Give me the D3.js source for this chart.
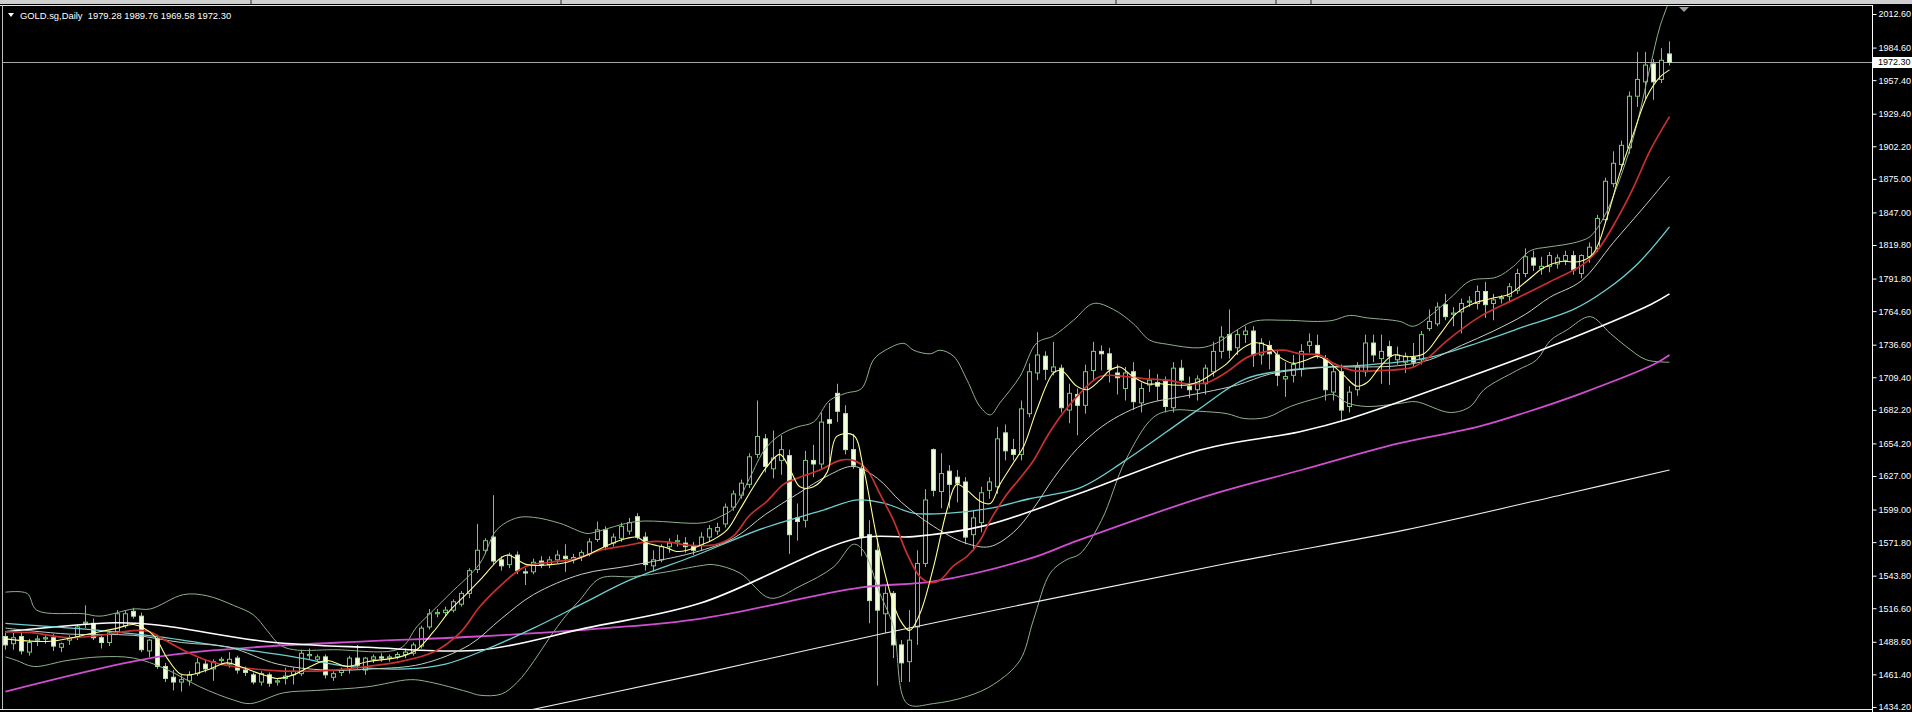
<!DOCTYPE html>
<html><head><meta charset="utf-8">
<script src="https://cdn.jsdelivr.net/npm/d3@7"></script>
<style>html,body{margin:0;padding:0;background:#000;overflow:hidden}svg{display:block}</style>
</head><body>
<svg id="c" width="1912" height="712"></svg>
<script>
// ---- data ----
const symbolTitle = "GOLD.sg,Daily  1979.28 1989.76 1969.58 1972.30";
const lastPrice = 1972.30;
const yTicks = [2012.60,1984.60,1957.40,1929.40,1902.20,1875.00,1847.00,1819.80,1791.80,1764.60,1736.60,1709.40,1682.20,1654.20,1627.00,1599.00,1571.80,1543.80,1516.60,1488.60,1461.40,1434.20];

const opens = [1493,1487,1493,1480,1490,1491,1492,1484,1490,1493,
1504,1504,1492,1488,1497,1502,1514,1510,1481,1491,
1468,1459,1455,1456,1462,1470,1466,1473,1470,1475,
1465,1461,1455,1461,1455,1458,1461,1462,1477,1474,
1476,1459,1463,1466,1475,1465,1474,1476,1475,1476,
1478,1479,1485,1501,1512,1513,1515,1520,1529,1549,
1565,1576,1557,1553,1561,1547,1547,1556,1553,1557,
1560,1557,1560,1562,1574,1582,1571,1575,1581,1593,
1576,1552,1557,1568,1572,1571,1569,1569,1576,1581,
1587,1601,1611,1620,1645,1658,1633,1640,1644,1592,
1590,1640,1637,1674,1696,1679,1649,1633,1578,1565,
1512,1529,1486,1472,1501,1554,1649,1614,1631,1626,
1622,1578,1588,1615,1618,1663,1649,1645,1679,1713,
1727,1714,1717,1682,1695,1686,1715,1731,1729,1713,
1700,1714,1688,1703,1705,1706,1684,1717,1702,1699,
1704,1714,1731,1745,1734,1745,1748,1728,1736,1728,
1708,1711,1716,1736,1736,1725,1697,1714,1685,1699,
1714,1738,1725,1735,1724,1722,1726,1724,1750,1754,
1770,1762,1764,1772,1771,1781,1771,1775,1777,1782,
1796,1809,1800,1802,1804,1807,1811,1796,1810,1817,
1841,1871,1887,1901,1944,1956,1971,1958,1979.28];
const highs = [1496,1496,1496,1491,1494,1494,1495,1488,1494,1503,
1519,1508,1494,1497,1515,1515,1517,1513,1491,1494,
1471,1465,1461,1464,1475,1474,1474,1476,1480,1477,
1468,1463,1464,1463,1458,1467,1467,1482,1483,1478,
1478,1464,1467,1477,1486,1476,1478,1479,1478,1480,
1483,1488,1502,1516,1516,1518,1524,1531,1550,1587,
1575,1611,1560,1563,1564,1550,1558,1560,1560,1565,
1570,1562,1565,1575,1589,1585,1579,1588,1592,1596,
1580,1565,1570,1575,1578,1576,1572,1580,1586,1588,
1604,1615,1624,1646,1690,1662,1665,1661,1649,1604,
1648,1653,1680,1688,1704,1686,1662,1636,1590,1575,
1535,1531,1490,1515,1565,1616,1650,1646,1636,1632,
1626,1598,1618,1626,1668,1670,1658,1690,1721,1747,
1731,1739,1720,1704,1700,1720,1739,1736,1734,1720,
1718,1722,1705,1716,1712,1710,1722,1724,1710,1711,
1720,1739,1752,1766,1749,1752,1752,1742,1740,1732,
1722,1728,1737,1746,1745,1728,1719,1720,1702,1722,
1745,1745,1745,1740,1735,1730,1738,1748,1766,1772,
1779,1768,1775,1777,1786,1789,1779,1778,1788,1800,
1817,1815,1810,1814,1812,1815,1815,1812,1822,1845,
1876,1898,1907,1948,1981,1981,1975,1984,1989.76];
const lows = [1482,1482,1478,1477,1485,1487,1481,1480,1486,1490,
1500,1490,1483,1485,1495,1500,1508,1480,1476,1466,
1455,1448,1447,1452,1460,1463,1456,1469,1467,1462,
1460,1453,1452,1451,1452,1453,1453,1460,1474,1472,
1458,1456,1460,1462,1466,1461,1471,1472,1472,1474,
1475,1477,1483,1499,1509,1510,1513,1518,1525,1546,
1562,1553,1548,1550,1545,1536,1545,1550,1550,1554,
1547,1554,1556,1560,1572,1565,1568,1572,1578,1574,
1548,1547,1555,1563,1568,1563,1561,1565,1572,1578,
1584,1598,1608,1617,1642,1630,1625,1628,1562,1573,
1584,1626,1633,1638,1672,1645,1633,1560,1504,1452,
1496,1475,1455,1455,1486,1551,1610,1600,1600,1605,
1570,1565,1580,1608,1612,1640,1640,1640,1676,1707,
1707,1711,1680,1671,1661,1679,1707,1715,1705,1695,
1690,1682,1680,1697,1690,1680,1680,1700,1692,1690,
1695,1710,1725,1725,1728,1738,1718,1720,1716,1702,
1693,1705,1710,1730,1725,1690,1690,1672,1680,1694,
1710,1722,1704,1703,1720,1713,1718,1720,1748,1752,
1757,1752,1746,1768,1766,1759,1757,1771,1772,1779,
1793,1798,1795,1797,1800,1803,1795,1792,1805,1814,
1838,1868,1882,1896,1935,1941,1941,1955,1969.58];
const closes = [1486,1492,1481,1488,1491,1492,1485,1487,1492,1501,
1505,1492,1488,1496,1512,1512,1510,1482,1490,1468,
1458,1455,1457,1461,1471,1466,1472,1474,1474,1465,
1463,1455,1462,1454,1456,1460,1464,1479,1478,1476,
1461,1462,1465,1475,1469,1475,1476,1475,1476,1478,
1480,1486,1500,1512,1513,1515,1522,1529,1548,1565,
1573,1556,1552,1561,1548,1546,1555,1553,1557,1561,
1558,1559,1563,1572,1582,1568,1576,1585,1588,1576,
1553,1557,1568,1571,1573,1568,1565,1576,1583,1584,
1601,1612,1621,1643,1660,1635,1642,1649,1578,1589,
1640,1637,1672,1671,1681,1649,1636,1576,1523,1515,
1529,1486,1471,1490,1554,1607,1615,1629,1620,1621,
1576,1592,1613,1622,1658,1648,1645,1683,1714,1728,
1716,1718,1684,1696,1686,1714,1731,1729,1716,1709,
1713,1689,1700,1707,1702,1685,1717,1707,1699,1708,
1717,1731,1743,1732,1745,1748,1728,1738,1729,1711,
1710,1720,1731,1739,1728,1699,1714,1682,1697,1718,
1738,1728,1731,1727,1728,1727,1722,1745,1756,1768,
1760,1763,1771,1773,1781,1770,1774,1776,1785,1796,
1810,1803,1802,1811,1809,1811,1799,1811,1818,1842,
1873,1888,1903,1944,1958,1970,1956,1974,1972.30];

// indicator lines: [bar index, price]
const maYellow = [[0,1491],[5.6,1489],[11,1496],[14,1500],[16,1503],[18.5,1494],[20.2,1475],[21.8,1462],[23.1,1461],[25.2,1465],[27.7,1471],[29.3,1468],[31.8,1462],[33.9,1458],[36,1461],[38.1,1468],[40.2,1473],[42.7,1468],[45.2,1472],[49.3,1476],[51.4,1482],[53.5,1497],[55.6,1515],[57.7,1529],[59.3,1540],[61.8,1558],[62.8,1561],[65.2,1553],[68.1,1553],[70.2,1555],[72.7,1561],[75.2,1569],[77.7,1575],[78.9,1576],[80.2,1571],[82.7,1567],[83.9,1564],[85.2,1565],[86.8,1569],[88.5,1574],[90.2,1582],[91.8,1599],[93.5,1618],[95.2,1635],[96.8,1645],[98.1,1632],[99.3,1618],[101,1618],[102.7,1630],[103.9,1660],[106,1661],[107.2,1635],[108.9,1576],[110.6,1529],[111.8,1507],[113,1498],[114.3,1512],[116,1551],[117.7,1599],[118.9,1620],[120.2,1615],[121.8,1606],[123.1,1604],[124.3,1620],[126,1638],[127.3,1652],[128.9,1682],[131,1713],[132,1715],[133.9,1702],[135.2,1699],[136.8,1707],[138,1715],[139.3,1718],[140.9,1710],[142.7,1704],[144.3,1704],[145.9,1703],[147.7,1703],[149.3,1706],[151,1713],[152.7,1721],[154.3,1732],[156,1738],[157.7,1736],[159.3,1726],[161,1721],[162.7,1724],[164,1727],[165.6,1721],[167.3,1711],[168.9,1702],[170.2,1705],[171.8,1718],[173.5,1728],[175.2,1726.5],[177.3,1729],[179.4,1746],[181.4,1763],[183.5,1771],[185.6,1775],[188,1779],[190.2,1790],[192.3,1801],[194.4,1806],[196.8,1806],[198.5,1813],[200.2,1843],[201.8,1880],[203.5,1913],[205.2,1944],[206.8,1960],[208,1966]];
const maRed = [[0,1497],[3.5,1496],[7.7,1492],[11.8,1494],[16,1498],[18,1497],[20.2,1489],[22.7,1480],[25.2,1473],[28.5,1468],[32.7,1465],[36.8,1464],[41,1465],[45.2,1468],[49.3,1472],[53.5,1480],[56.8,1496],[59.3,1518],[61.8,1535],[63.5,1545],[65.2,1552],[68.1,1555],[71.4,1558],[74.3,1565],[77.7,1569],[80.2,1572],[82.7,1572],[85.6,1569],[88.9,1570],[91,1577],[93,1594],[95.2,1606],[97.25,1620],[99.3,1626],[101.8,1632],[104.3,1640],[106,1640],[107.7,1632],[109.3,1612],[111,1590],[112.7,1562],[114.3,1543],[115.6,1538],[116.8,1540],[118.5,1552],[120.2,1560],[121.8,1573],[123.1,1590],[125.2,1612],[126.8,1625],[128.5,1640],[130.2,1660],[131.8,1676],[133.9,1693],[136.8,1710],[140.1,1710],[142.7,1708],[145.2,1707],[147.7,1704],[150.2,1705],[152.7,1714],[155.2,1726],[157.7,1731],[159.8,1732],[161.8,1729],[164.3,1728],[166,1721],[168.5,1715],[171.8,1715],[174.3,1716],[176,1718],[177.7,1725],[180.2,1740],[184.3,1760],[188.5,1774],[193,1789],[197.3,1804],[199.3,1818],[201.4,1841],[203.5,1868],[205.6,1899],[208,1927]];
const maGrey = [[0,1500],[8,1495],[16,1494],[22,1488],[28,1484],[34,1470],[40,1465],[46,1466],[52,1470],[58,1486],[62,1508],[66,1528],[72,1545],[78,1552],[86,1563],[91,1575],[95,1595],[99,1612],[103,1628],[106,1635],[109,1625],[112,1605],[116,1585],[120,1571],[123,1568],[126,1580],[128.5,1600],[131,1625],[134,1650],[137,1668],[140,1680],[143,1688],[146,1692],[150,1697],[154,1703],[158,1712],[162,1716],[166,1718],[170,1718],[174,1719],[178,1724],[182,1736],[186,1748],[190,1762],[193,1776],[197,1790],[201,1822],[205,1853],[208,1877]];
const maCyan = [[0,1504],[12,1498],[19,1493],[29,1483],[36,1476],[43,1468],[50,1466],[55,1470],[60,1482],[66,1500],[72,1520],[78,1540],[86,1560],[95,1584],[102,1598],[106.5,1607],[110,1604],[113.5,1596],[118,1596],[123,1600],[128,1608],[134.3,1617],[140,1640],[149,1682],[155,1708],[161,1716],[170,1719.6],[174,1722],[178,1726],[184,1738],[190,1752],[196,1766],[200,1782],[204,1804],[208,1835]];
const maWhite = [[0,1497],[13.7,1504.5],[19,1502.6],[32.7,1488.7],[45.2,1484],[59.3,1481.7],[72.5,1500],[86.8,1520.7],[106.5,1575],[113.5,1576.4],[122.7,1586],[134.3,1612.5],[149.3,1648.7],[161.8,1664],[168.1,1675],[180.6,1704],[193.1,1735],[205.6,1770],[208,1779]];
const maMagenta = [[0,1447],[19,1476],[31,1484],[45,1489],[59,1493],[75,1500],[87,1508],[107,1534],[116,1539],[128,1558],[134,1573],[150,1610],[162,1632],[174,1654],[184,1668],[190,1680],[197,1696],[206,1720],[208,1728]];
const maLong = [[58,1421],[87,1462],[110,1496],[134,1529],[155,1557],[175,1582],[195,1612],[208,1632]];
const bbUpper = [[0,1530],[2.7,1529],[3.9,1515],[9.75,1512],[11.8,1510],[16,1516],[18.1,1516],[22.25,1528],[25.2,1527],[28.5,1519],[31,1511],[32.7,1498],[34.3,1486],[36,1482],[41,1482],[49.3,1483],[51.4,1501],[53.5,1515],[55.6,1529],[59.3,1554],[61.4,1582],[63.9,1592],[66,1592.5],[69.3,1587.5],[72.7,1579],[73.9,1580.5],[78.9,1589],[87.3,1588],[89.3,1593],[91,1600],[93,1625],[95,1650],[97,1662],[99,1668],[101,1672],[103,1690],[105,1696],[107,1700],[108.5,1724],[110,1732],[112.3,1737.7],[113.5,1732],[115.6,1729],[116.8,1732],[118.5,1727],[120.2,1707],[121.8,1685],[123.1,1678],[124.3,1688],[126.8,1710],[128.9,1738],[131,1744],[133.5,1757],[136,1771],[138.5,1766],[141,1754],[143,1740.5],[145.2,1737],[149.3,1734],[151.4,1738],[153.5,1747],[156,1756],[159.8,1757],[164,1756],[166,1757],[168,1761],[170.2,1759],[174.3,1756],[176,1752],[178.5,1763],[181,1778],[183.1,1790],[186.4,1793],[188.5,1802],[190.6,1815],[192.7,1818],[194.8,1820],[196.8,1823],[198.1,1827],[199.8,1843],[201.4,1868],[203.5,1910],[205.6,1969],[206.8,2002],[208,2024]];
const bbLower = [[0,1476],[1.4,1473],[3.5,1468],[7.7,1473],[11.8,1476],[16,1475],[20,1466],[24.3,1451],[28.5,1440],[30.6,1437],[34.75,1446],[38.9,1448],[45.2,1451],[50.6,1457],[53,1455],[57.7,1447],[59.3,1444],[62,1445],[64,1455],[66,1472],[68,1492],[70,1510],[71.8,1523.5],[74.3,1541.5],[78.5,1543],[82.7,1547],[86.8,1552],[88.5,1553],[91.8,1546],[95.6,1525],[99.3,1535],[103.5,1551],[106,1570],[107.2,1565],[109.3,1529],[111,1501],[112.7,1437],[116,1437],[120.2,1443],[123.5,1453],[126.8,1473],[128.5,1507],[130.6,1546],[132.6,1557],[134.3,1562],[137,1590],[140,1640],[143.5,1676],[146,1682],[149.3,1681],[152.7,1679],[154.8,1675],[157.7,1676],[160.6,1685],[164,1692],[166,1695],[167.7,1688],[170.2,1685],[174.3,1687.6],[176.3,1689],[180.6,1680],[183.1,1685],[184.8,1699],[188.9,1715],[191.4,1724],[193.1,1740],[195.2,1749],[198.1,1760],[200.6,1746],[202.6,1735],[205.1,1724],[208,1722]];

// ---- drawing ----
const W = 1912, H = 712;
const plotL = 3, plotR = 1872, plotT = 6, plotB = 709;
const svg = d3.select("#c");
const x = d3.scaleLinear().domain([0, 208]).range([5.5, 1669.5]);
const y = d3.scaleLinear().domain([1432.5, 2019.3]).range([plotB, plotT]);
const FONT = "'Liberation Sans', Arial, sans-serif";

svg.append("rect").attr("width", W).attr("height", H).attr("fill", "#000");
// top window strip
svg.append("rect").attr("x", 0).attr("y", 0).attr("width", W).attr("height", 4).attr("fill", "#cfcfcf");
[250, 560, 1115, 1275, 1310].forEach(v => svg.append("rect").attr("x", v).attr("y", 0).attr("width", 2).attr("height", 4).attr("fill", "#7a7a7a"));

const defs = svg.append("defs");
defs.append("clipPath").attr("id", "plot").append("rect")
  .attr("x", plotL).attr("y", plotT).attr("width", plotR - plotL).attr("height", plotB - plotT);

const g = svg.append("g").attr("clip-path", "url(#plot)");

// current price line
g.append("line").attr("x1", plotL).attr("x2", plotR)
  .attr("y1", Math.round(y(lastPrice)) + 0.5).attr("y2", Math.round(y(lastPrice)) + 0.5)
  .attr("stroke", "#a8a8a8").attr("stroke-width", 1);

// candles
const idx = d3.range(opens.length);
const cg = g.append("g");
cg.selectAll("line.wick").data(idx).join("line")
  .attr("x1", i => x(i)).attr("x2", i => x(i))
  .attr("y1", i => y(highs[i])).attr("y2", i => y(lows[i]))
  .attr("stroke", "#6ccf6c").attr("stroke-width", 1);
cg.selectAll("rect.body").data(idx).join("rect")
  .attr("x", i => x(i) - 2)
  .attr("width", 4)
  .attr("y", i => y(Math.max(opens[i], closes[i])))
  .attr("height", i => Math.max(0.6, Math.abs(y(opens[i]) - y(closes[i]))))
  .attr("fill", i => closes[i] < opens[i] ? "#f2ffdc" : "#000")
  .attr("stroke", i => closes[i] < opens[i] ? "#b0eaa6" : "#6ccf6c")
  .attr("stroke-width", 1);

// indicator lines
const line = d3.line().x(d => x(d[0])).y(d => y(d[1])).curve(d3.curveCatmullRom.alpha(0.5));
const series = [
  [bbUpper, "#8fb08f", 1],
  [bbLower, "#8fb08f", 1],
  [maLong, "#eeeeee", 1.1],
  [maMagenta, "#d04ed0", 1.8],
  [maWhite, "#ffffff", 1.6],
  [maCyan, "#6cd0d0", 1.3],
  [maGrey, "#c4d0c4", 1],
  [maRed, "#c83030", 1.7],
  [maYellow, "#ffff96", 1.1]
];
series.forEach(([pts, col, w]) => {
  g.append("path").attr("d", line(pts)).attr("fill", "none")
    .attr("stroke", col).attr("stroke-width", w);
});

// frame
svg.append("line").attr("x1", 0).attr("x2", plotR).attr("y1", 5.5).attr("y2", 5.5).attr("stroke", "#e8e8e8");
svg.append("line").attr("x1", 2.5).attr("x2", 2.5).attr("y1", 5).attr("y2", plotB + 1).attr("stroke", "#bdbdbd");
svg.append("line").attr("x1", 0).attr("x2", plotR).attr("y1", plotB + 0.5).attr("y2", plotB + 0.5).attr("stroke", "#e8e8e8");

// right price axis
const axis = d3.axisRight(y).tickValues(yTicks).tickFormat(d3.format(".2f")).tickSizeInner(4).tickSizeOuter(0).tickPadding(2);
const ag = svg.append("g").attr("transform", `translate(${plotR + 0.5},0)`).call(axis);
ag.select(".domain").attr("stroke", "#ffffff").attr("d", `M0,${plotT - 1}V${H}`);
ag.selectAll(".tick line").attr("stroke", "#ffffff");
ag.selectAll(".tick text").attr("fill", "#ffffff").style("font-family", FONT).style("font-size", "9px");

// last price label
const ly = Math.round(y(lastPrice));
svg.append("rect").attr("x", plotR + 1).attr("y", ly - 5).attr("width", W - plotR - 1).attr("height", 11).attr("fill", "#ffffff");
svg.append("text").attr("x", plotR + 6).attr("y", ly + 0.5).attr("dy", "0.32em")
  .attr("fill", "#000").style("font-family", FONT).style("font-size", "9px").text(d3.format(".2f")(lastPrice));

// chart shift marker
svg.append("path").attr("d", `M${1679},7 L${1689},7 L${1684},12 Z`).attr("fill", "#9a9a9a");

// title
svg.append("path").attr("d", "M8,13 L14,13 L11,17 Z").attr("fill", "#ffffff");
svg.append("text").attr("x", 20).attr("y", 16).attr("dy", "0.32em")
  .attr("fill", "#ffffff").style("font-family", FONT).style("font-size", "9.4px")
  .style("white-space", "pre").attr("xml:space", "preserve").text(symbolTitle);
</script>
</body></html>
